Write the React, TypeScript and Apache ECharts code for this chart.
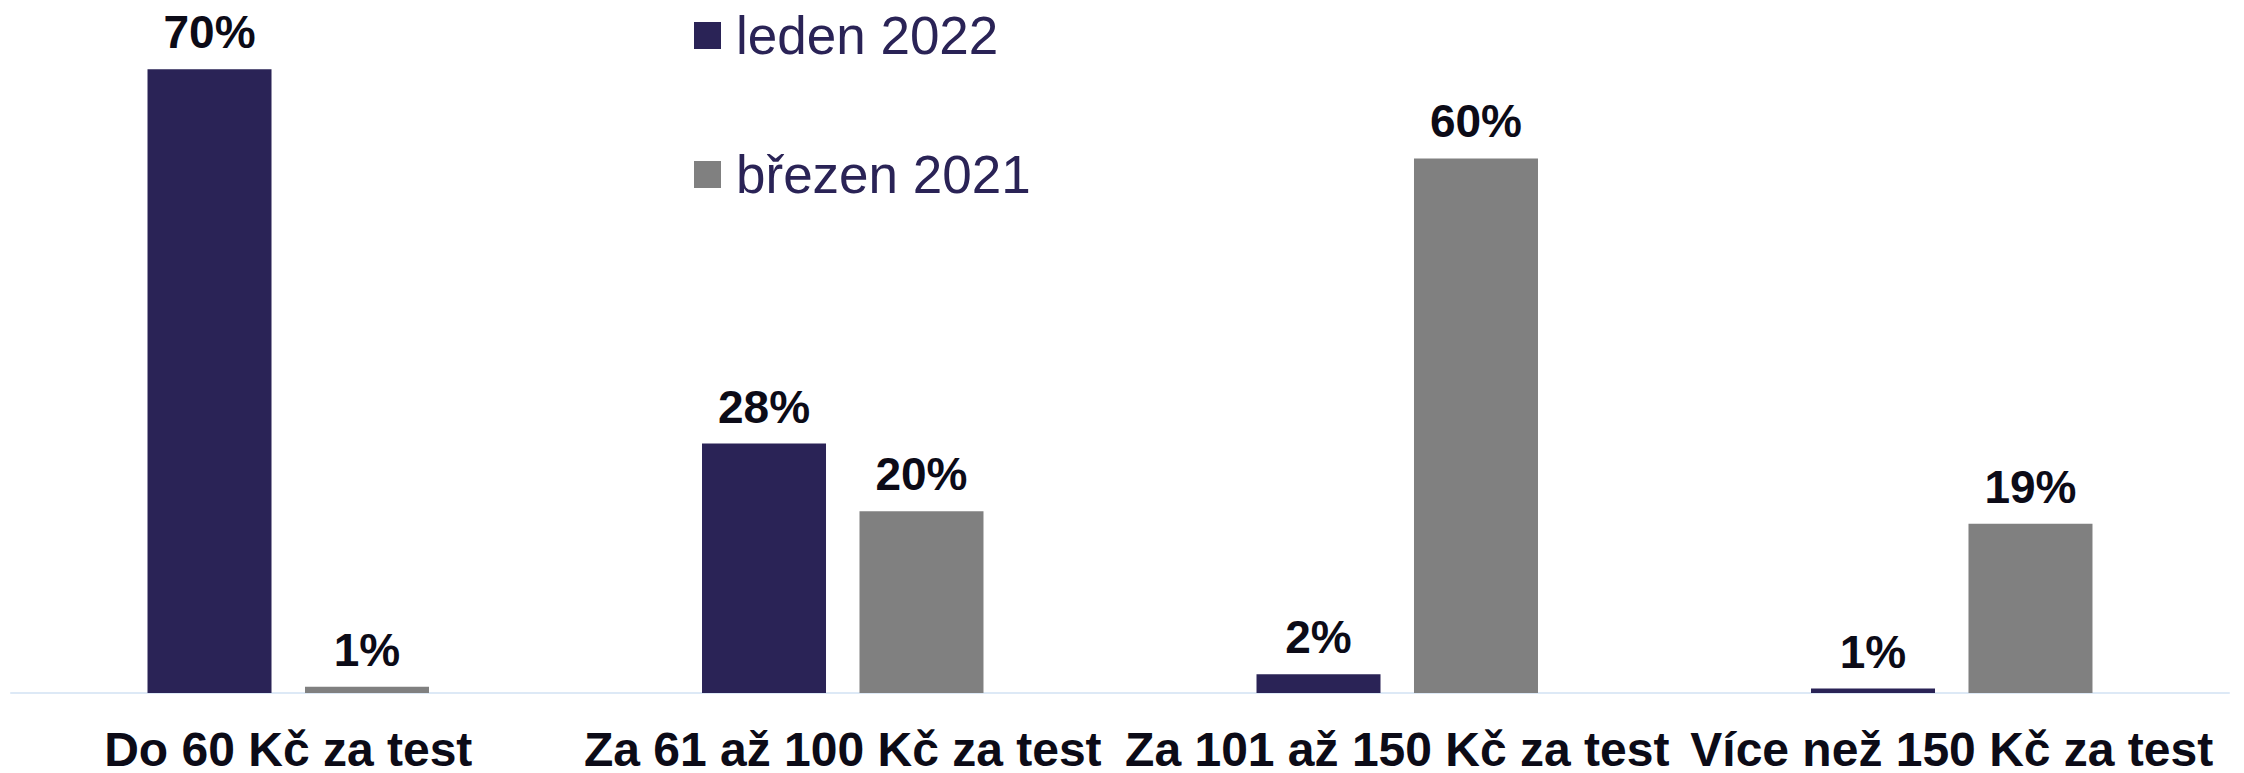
import React, { useEffect, useRef } from "react";
import * as echarts from "echarts";

const categories = [
  "Do 60 Kč za test",
  "Za 61 až 100 Kč za test",
  "Za 101 až 150 Kč za test",
  "Více než 150 Kč za test",
];
const seriesNames = ["leden 2022", "březen 2021"];
const leden2022 = [70, 28, 2.1, 0.5];
const brezen2021 = [0.7, 20.4, 60, 19];

const DARK = "#2a2356";
const GRAY = "#808080";
const LABEL = "#0c0b17";

export default function App() {
  const ref = useRef<HTMLDivElement>(null);
  useEffect(() => {
    if (!ref.current) return;
    const chart = echarts.init(ref.current, undefined, { renderer: "svg" });
    const fmt = (p: any) => Math.round(p.value) + "%";
    const labelCfg = {
      show: true,
      position: "top",
      distance: 14,
      formatter: fmt,
      fontFamily: "Liberation Sans, Arial, sans-serif",
      fontWeight: "bold",
      fontSize: 46,
      color: LABEL,
    };
    chart.setOption({
      animation: false,
      backgroundColor: "#ffffff",
      grid: { left: 11, right: 15, top: 69.3, bottom: 78, containLabel: false },
      legend: {
        orient: "vertical",
        left: 694,
        top: 9,
        padding: 0,
        itemWidth: 27,
        itemHeight: 27,
        itemGap: 86,
        icon: "rect",
        data: seriesNames,
        textStyle: {
          fontFamily: "Liberation Sans, Arial, sans-serif",
          fontSize: 53,
          color: DARK,
          padding: [0, 0, 0, 10],
        },
      },
      xAxis: {
        type: "category",
        data: categories,
        axisLine: { show: true, lineStyle: { color: "#dde9f6", width: 2 } },
        axisTick: { show: false },
        axisLabel: {
          interval: 0,
          hideOverlap: false,
          width: 560,
          overflow: "none",
          align: "center",
          margin: 32,
          fontFamily: "Liberation Sans, Arial, sans-serif",
          fontWeight: "bold",
          fontSize: 48,
          color: LABEL,
        },
      },
      yAxis: {
        type: "value",
        min: 0,
        max: 70,
        show: false,
        splitLine: { show: false },
      },
      series: [
        {
          name: seriesNames[0],
          type: "bar",
          data: leden2022,
          barWidth: 124,
          barGap: "27%",
          itemStyle: { color: DARK },
          label: labelCfg,
        },
        {
          name: seriesNames[1],
          type: "bar",
          data: brezen2021,
          barWidth: 124,
          barGap: "27%",
          itemStyle: { color: GRAY },
          label: labelCfg,
        },
      ],
    });
    return () => chart.dispose();
  }, []);
  return (
    <div
      ref={ref}
      style={{ position: "fixed", left: 0, top: 0, width: 2244, height: 773, background: "#fff" }}
    />
  );
}
